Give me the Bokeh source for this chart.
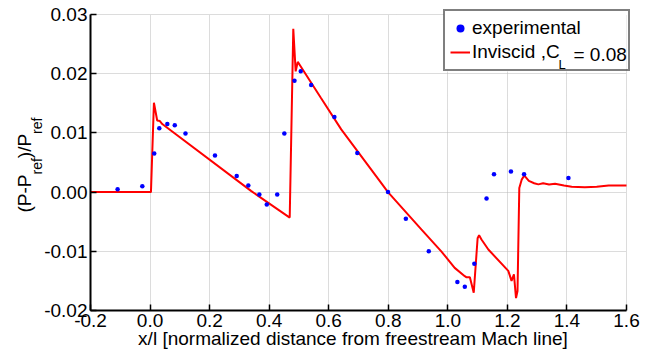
import numpy as np
from bokeh.plotting import figure
from bokeh.models import (Range1d, NumeralTickFormatter, FixedTicker, Label,
                          Legend, LegendItem, BoxAnnotation)
from bokeh.embed import file_html
from bokeh.resources import INLINE

# ---------------- data ----------------
exp_x = [-0.109, -0.026, 0.014, 0.031, 0.058, 0.083, 0.119, 0.218, 0.291, 0.330,
         0.367, 0.392, 0.427, 0.451, 0.485, 0.506, 0.541, 0.619, 0.696, 0.799,
         0.859, 0.936, 1.032, 1.057, 1.089, 1.130, 1.155, 1.212, 1.256, 1.405]
exp_y = [0.0005, 0.0010, 0.0065, 0.0108, 0.0115, 0.0113, 0.0099, 0.0062, 0.0027, 0.0011,
         -0.0004, -0.0021, -0.0004, 0.0099, 0.0188, 0.0204, 0.0181, 0.0127, 0.0066, 0.0000,
         -0.0045, -0.0100, -0.0152, -0.0160, -0.0121, -0.0011, 0.0030, 0.0035, 0.0030, 0.0024]

inv_x = [-0.2, 0.003, 0.013, 0.024, 0.033, 0.041, 0.339, 0.469, 0.481, 0.489,
         0.496, 0.505, 0.574, 0.642, 0.771, 0.799, 0.911, 0.978, 1.023, 1.057,
         1.063, 1.074, 1.087, 1.100, 1.105, 1.113, 1.136, 1.203, 1.214, 1.222,
         1.229, 1.234, 1.240, 1.248, 1.257, 1.272, 1.290, 1.304, 1.320, 1.340,
         1.360, 1.390, 1.416, 1.460, 1.500, 1.540, 1.600]
inv_y = [0.0, 0.0, 0.0151, 0.0121, 0.0120, 0.0115, 0.0002, -0.0043, 0.0276, 0.0204,
         0.0220, 0.0213, 0.0159, 0.0106, 0.0019, 0.0000, -0.0063, -0.0100, -0.0128, -0.0142,
         -0.0144, -0.0144, -0.0170, -0.0078, -0.0073, -0.0080, -0.0097, -0.0133, -0.0150, -0.0139,
         -0.0179, -0.0167, 0.0007, 0.0021, 0.0028, 0.0019, 0.0015, 0.0013, 0.0015, 0.0013,
         0.0014, 0.0011, 0.0009, 0.0008, 0.0009, 0.0011, 0.0011]

x_ticks = [-0.2, 0.0, 0.2, 0.4, 0.6, 0.8, 1.0, 1.2, 1.4, 1.6]
y_ticks = [-0.02, -0.01, 0.0, 0.01, 0.02, 0.03]

x_title = "x/l [normalized distance from freestream Mach line]"
y_title_parts = ["(P-P", "ref", ")/P", "ref"]
legend_exp = "experimental"
legend_inv = "Inviscid ,C"
legend_inv_sub = "L"
legend_inv_rest = "= 0.08"

FONT = "Liberation Sans"
FS = "19px"

# ---------------- layout (pixels) ----------------
W, H = 646, 352
AX_L, AX_R, AX_T, AX_B = 90, 626, 14, 310       # data area inside the canvas
x_lo, x_hi = x_ticks[0], x_ticks[-1]
y_lo, y_hi = y_ticks[0], y_ticks[-1]
kx = (AX_R - AX_L) / (x_hi - x_lo)
ky = (AX_B - AX_T) / (y_hi - y_lo)
xr = Range1d(x_lo - AX_L / kx, x_hi + (W - AX_R) / kx)
yr = Range1d(y_lo - (H - AX_B) / ky, y_hi + AX_T / ky)

p = figure(width=W, height=H, output_backend="svg", toolbar_location=None,
           x_range=xr, y_range=yr, min_border=0)
p.outline_line_color = None
p.background_fill_color = "white"
p.border_fill_color = "white"

p.xaxis.ticker = FixedTicker(ticks=x_ticks)
p.yaxis.ticker = FixedTicker(ticks=y_ticks)
p.xaxis.formatter = NumeralTickFormatter(format="0.0")
p.yaxis.formatter = NumeralTickFormatter(format="0.00")
p.xaxis.fixed_location = y_lo
p.yaxis.fixed_location = x_lo
p.xaxis.bounds = (x_lo, x_hi)
p.yaxis.bounds = (y_lo, y_hi)

for ax in (p.xaxis, p.yaxis):
    ax.axis_line_color = "black"
    ax.axis_line_width = 2
    ax.major_tick_line_color = "black"
    ax.major_tick_line_width = 1.5
    ax.major_tick_in = 6
    ax.major_tick_out = 0
    ax.minor_tick_line_color = None
    ax.major_label_text_font = FONT
    ax.major_label_text_font_size = FS
    ax.major_label_text_color = "black"
    ax.major_label_standoff = 3

p.grid.grid_line_color = "#b8b8b8"
p.grid.grid_line_dash = "1 1"
p.grid.grid_line_width = 1
p.xgrid.bounds = (x_lo, x_hi)
p.ygrid.bounds = (y_lo, y_hi)
try:
    p.xgrid.cross_bounds = (y_lo, y_hi)
    p.ygrid.cross_bounds = (x_lo, x_hi)
except Exception:
    pass

# white backing for the legend box (covers the grid inside it)
LG_L, LG_R, LG_T, LG_B = 443, 626, 13, 71
p.add_layout(BoxAnnotation(left=xr.start + LG_L / kx, right=xr.start + LG_R / kx,
                           top=yr.end - LG_T / ky, bottom=yr.end - LG_B / ky,
                           fill_color="white", fill_alpha=1, line_color=None,
                           level="glyph"))

r_line = p.line(inv_x, inv_y, line_color="#ff0000", line_width=2)
r_pts = p.scatter(exp_x, exp_y, size=4.5, fill_color="#0000ff", line_color=None)

legend = Legend(items=[LegendItem(label=legend_exp, renderers=[r_pts]),
                       LegendItem(label=legend_inv, renderers=[r_line])],
                location=(LG_L, H - LG_B), margin=0, padding=5, spacing=0,
                glyph_width=20, glyph_height=24, label_height=24,
                label_width=151, label_standoff=2,
                label_text_font=FONT, label_text_font_size=FS,
                label_text_color="black",
                border_line_color="black", border_line_width=2,
                background_fill_alpha=0)
p.add_layout(legend)


def lab(text, cx, cy, size_px, rotated=False, **kw):
    """Label whose alphabetic baseline sits at canvas pixel (cx, cy)."""
    shift = 0.3465 * size_px          # middle-of-box to baseline distance
    if rotated:
        ax_, ay_ = cx - shift, cy     # rotated +90 deg: text 'up' is canvas -x
        kw["angle"] = np.pi / 2
    else:
        ax_, ay_ = cx, cy - shift
    p.add_layout(Label(x=ax_, y=H - ay_, x_units="screen", y_units="screen",
                       text=text, text_font=FONT, text_font_size=f"{size_px}px",
                       text_color="black", text_baseline="middle",
                       level="overlay", **kw))


# legend subscript and remainder
lab(legend_inv_sub, 558, 68.9, 13)
lab(legend_inv_rest, 573, 60.6, 19)

# x title
lab(x_title, 352.5, 345, 19, text_align="center")

# y title (rotated, with subscripts)
y_pos = [212, 174, 157.7, 133.4]
x_pos = [30.5, 41, 30.5, 41]
sizes = [19, 14, 19, 14]
for t, xx, yy, fs in zip(y_title_parts, x_pos, y_pos, sizes):
    lab(t, xx, yy, fs, rotated=True, text_align="left")

open("out.html", "w").write(file_html(p, INLINE))
